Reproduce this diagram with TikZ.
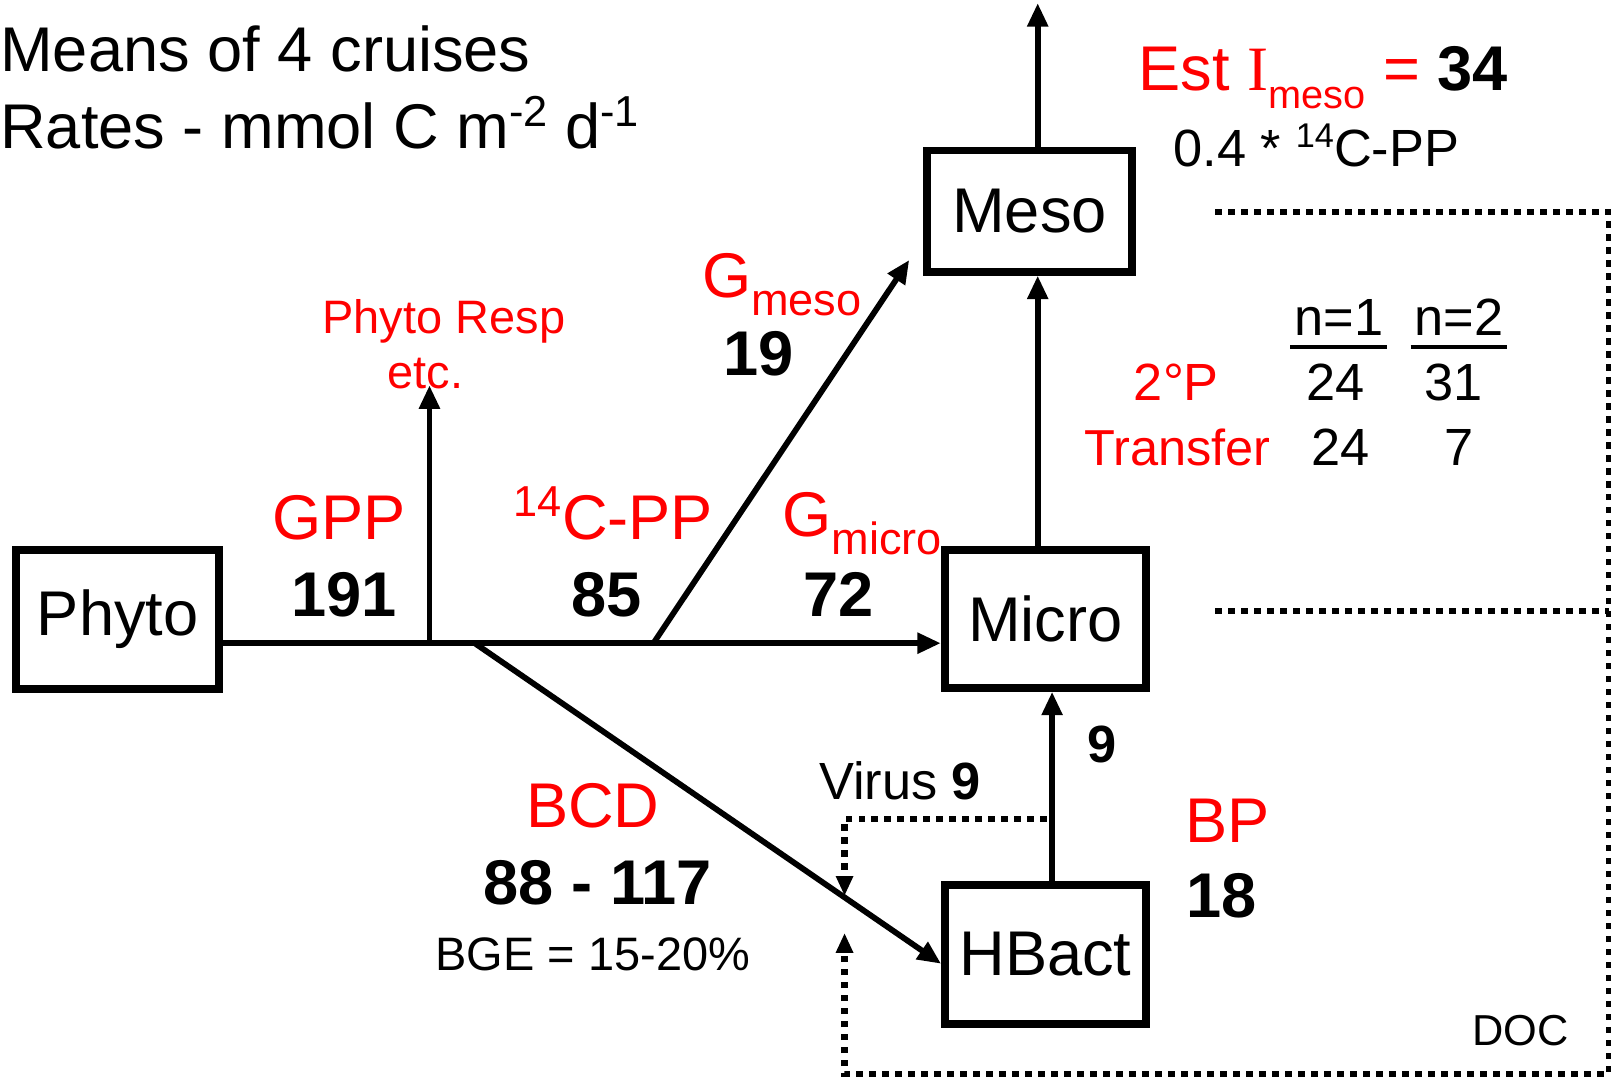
\documentclass[tikz,border=0pt]{standalone}
\usepackage{fontspec}
\setmainfont{Liberation Sans}
\newfontfamily\serifI{Liberation Serif}
\usetikzlibrary{arrows.meta}
\definecolor{lblred}{RGB}{255,0,0}
\newcommand{\supx}[2][24]{\raisebox{0.36em}{\fontsize{#1}{#1}\selectfont #2}}
\newcommand{\subx}[2][25]{\raisebox{-0.28em}{\fontsize{#1}{#1}\selectfont #2}}
\begin{document}
\begin{tikzpicture}[x=0.02cm,y=-0.02cm,
  box/.style={draw,line width=4.3pt,inner sep=0pt,font=\fontsize{35}{40}\selectfont},
  flow/.style={line width=3.2pt,-{Triangle[length=13pt,width=11pt]}},
  dots/.style={line width=3.4pt,dash pattern=on 3.6pt off 3.6pt},
  dotarrow/.style={dots,-{Triangle[length=11pt,width=9pt]}},
  txt/.style={anchor=base,inner sep=0pt},
  big/.style={txt,font=\fontsize{35}{40}\selectfont},
  bigb/.style={txt,font=\fontsize{35}{40}\selectfont\bfseries},
  mid/.style={txt,font=\fontsize{26}{30}\selectfont},
  tab/.style={txt,font=\fontsize{29}{33}\selectfont},
  tabb/.style={txt,font=\fontsize{29}{33}\selectfont\bfseries},
  red/.style={text=lblred}]
\useasboundingbox (0,0) rectangle (1568,1049);

% boxes
\node[box,minimum width=3.96cm,minimum height=2.70cm] (phyto) at (114.5,603) {Phyto};
\node[box,minimum width=3.98cm,minimum height=2.36cm] (meso) at (1002,205.5) {Meso};
\node[box,minimum width=3.92cm,minimum height=2.68cm] (micro) at (1017.5,602.5) {Micro};
\node[box,minimum width=3.92cm,minimum height=2.70cm] (hbact) at (1017.5,929) {HBact};

% helper coordinates
\coordinate (main) at (0,626);
\coordinate (j1) at (418,626);
\coordinate (j0) at (462,626);
\coordinate (j2) at (636,626);
\coordinate (resp) at (418,375);
\coordinate (gm) at (885,253);
\coordinate (mx) at (1010,0);
\coordinate (top) at (1010,3);
\coordinate (hx) at (1024,0);
\coordinate (bcdend) at (916,938);
\coordinate (v1) at (1019,797);
\coordinate (v2) at (822,797);
\coordinate (vtip) at (822,872);
\coordinate (d1) at (1183,206);
\coordinate (d2) at (1566,206);
\coordinate (d3) at (1566,1045);
\coordinate (d4) at (822,1045);
\coordinate (dtip) at (822,908);
\coordinate (m1) at (1183,595);
\coordinate (m2) at (1566,595);

% connectors
\draw[flow] (phyto.east |- main) -- (micro.west |- main);
\draw[flow] (j1) -- (resp);
\draw[flow] (j2) -- (gm);
\draw[flow] (j0) -- (bcdend);
\draw[flow] (micro.north -| mx) -- (meso.south -| mx);
\draw[flow] (meso.north -| mx) -- (top);
\draw[flow] (hbact.north -| hx) -- (micro.south -| hx);

% dotted
\draw[dotarrow] (v1) -- (v2) -- (vtip);
\draw[dotarrow] (d1) -- (d2) -- (d3) -- (d4) -- (dtip);
\draw[dots] (m1) -- (m2);

% header text
\node[big,anchor=base west] (t1) at (0,70) {Means of 4 cruises};
\node[big,anchor=base west] (t2) at (0,145) {Rates - mmol C m\supx{-2} d\supx{-1}};

% labels
\node[big,anchor=base west] (est) at (1108,88) {\textcolor{lblred}{Est {\serifI I}\subx[22]{meso} =} \textbf{34}};
\node[tab,anchor=base west] (pp04) at (1142,162) {0.4 * \supx[19]{14}C-PP};
\node[big,red] (gmeso) at (761,290) {G\subx{meso}};
\node[bigb] (n19) at (738,365) {19};
\node[mid,red] (resp1) at (432,325) {Phyto Resp};
\node[mid,red] (resp2) at (414,378) {etc.};
\node[big,red] (gpp) at (330,525) {GPP};
\node[bigb] (n191) at (335,600) {191};
\node[big,red] (cpp) at (597,525) {\supx{14}C-PP};
\node[bigb] (n85) at (590,600) {85};
\node[big,red] (gmicro) at (839,522) {G\subx{micro}};
\node[bigb] (n72) at (816,600) {72};

\node[tab] (n1) at (1303,327) {n=1};
\node[tab] (n2) at (1420,327) {n=2};
\draw[line width=2.4pt] ([xshift=-2pt,yshift=-6pt]n1.base west) -- ([xshift=2pt,yshift=-6pt]n1.base east);
\draw[line width=2.4pt] ([xshift=-2pt,yshift=-6pt]n2.base west) -- ([xshift=2pt,yshift=-6pt]n2.base east);
\node[tab,red] (sp) at (1145,390) {2°P};
\node[txt,red,font=\fontsize{28}{32}\selectfont] (tr) at (1146,453) {Transfer};
\node[tab] (a1) at (1300,390) {24};
\node[tab] (a2) at (1415,390) {31};
\node[tab] (b1) at (1305,453) {24};
\node[tab] (b2) at (1420,453) {7};

\node[tabb] (n9) at (1073,742) {9};
\node[tab] (virus) at (876,778) {Virus \textbf{9}};
\node[big,red] (bp) at (1195,820) {BP};
\node[bigb] (n18) at (1189,893) {18};
\node[big,red] (bcd) at (577,805) {BCD};
\node[bigb] (bcdv) at (582,880) {88 - 117};
\node[mid] (bge) at (577,945) {BGE = 15-20\%};
\node[txt,font=\fontsize{24}{28}\selectfont] (doc) at (1480,1018) {DOC};
\end{tikzpicture}
\end{document}
